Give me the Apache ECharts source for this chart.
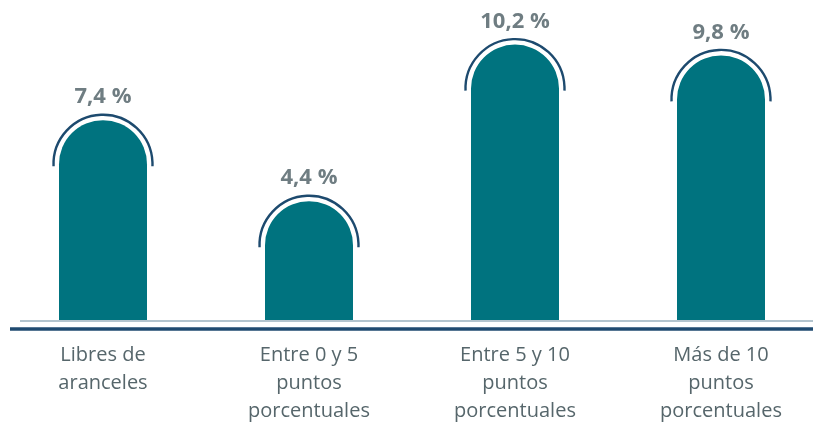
<!DOCTYPE html>
<html>
<head>
<meta charset="utf-8">
<script src="https://cdn.jsdelivr.net/npm/echarts@6/dist/echarts.min.js"></script>
<style>
html,body{margin:0;padding:0;background:#fff;}
#chart{width:813px;height:424px;}
</style>
</head>
<body>
<div id="chart"></div>
<script>
var categories = [
  "Libres de\naranceles",
  "Entre 0 y 5\npuntos\nporcentuales",
  "Entre 5 y 10\npuntos\nporcentuales",
  "Más de 10\npuntos\nporcentuales"
];
var values = [7.4, 4.4, 10.2, 9.8];

var BAR_W = 88;
var chart = echarts.init(document.getElementById('chart'), null, {renderer: 'canvas'});

function fmt(v) { return v.toFixed(1).replace('.', ',') + ' %'; }

chart.setOption({
  animation: false,
  grid: {left: 0, width: 824, top: 23, bottom: 104, containLabel: false, outerBoundsMode: 'none'},
  xAxis: {
    type: 'category',
    data: categories,
    axisLine: {show: false},
    axisTick: {show: false},
    axisLabel: {
      margin: 21,
      fontFamily: 'Open Sans',
      fontSize: 20,
      lineHeight: 28,
      color: '#56666b',
      interval: 0
    }
  },
  yAxis: {
    type: 'value', min: 0, max: 11,
    show: false, splitLine: {show: false}
  },
  series: [
    {
      type: 'bar',
      data: values,
      barWidth: BAR_W,
      itemStyle: {color: '#00737f', borderRadius: [BAR_W / 2, BAR_W / 2, 0, 0]},
      label: {
        show: true,
        position: 'top',
        distance: 12,
        formatter: function (p) { return fmt(p.value); },
        fontFamily: 'Open Sans',
        fontWeight: 'bold',
        fontSize: 22,
        color: '#6f7d82'
      },
      z: 2
    },
    {
      type: 'custom',
      data: values.map(function (v, i) { return [i, v]; }),
      renderItem: function (params, api) {
        var pt = api.coord([api.value(0), api.value(1)]);
        var r = BAR_W / 2;
        return {
          type: 'arc',
          shape: {cx: pt[0], cy: pt[1] + r, r: r + 5.5, startAngle: Math.PI - 0.04, endAngle: 2 * Math.PI + 0.04, clockwise: true},
          style: {stroke: '#1d4a6e', lineWidth: 2.4, fill: null}
        };
      },
      z: 3
    }
  ],
  graphic: [
    {type: 'line', shape: {x1: 20, y1: 321, x2: 813, y2: 321}, style: {stroke: '#b3c4ce', lineWidth: 2}, z: 1},
    {type: 'line', shape: {x1: 10, y1: 329, x2: 813, y2: 329}, style: {stroke: '#1f4a70', lineWidth: 3.5}, z: 1}
  ]
});
</script>
</body>
</html>
